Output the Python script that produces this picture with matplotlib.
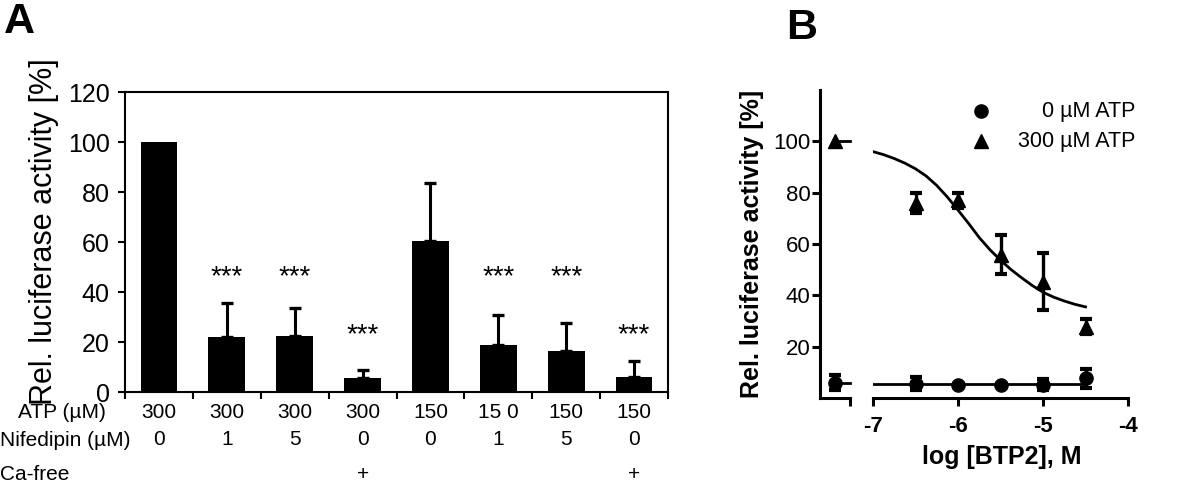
import matplotlib
matplotlib.use('Agg')
import matplotlib.pyplot as plt
import numpy as np
from matplotlib.transforms import blended_transform_factory

plt.rcParams['axes.unicode_minus'] = False

# Panel A: relative luciferase activity per condition
atp_labels = ['300', '300', '300', '300', '150', '15 0', '150', '150']
nifedipin_labels = ['0', '1', '5', '0', '0', '1', '5', '0']
ca_free_labels = ['', '', '', '+', '', '', '', '+']
activity = [100, 22, 22.5, 5.5, 60.5, 19, 16.5, 6]
activity_err = [0, 13.5, 11, 3.5, 23, 12, 11, 6.5]
stars = ['', '***', '***', '***', '', '***', '***', '***']
star_y = [0, 43, 43, 20, 0, 43, 43, 20]

# Panel B: dose response to BTP2
log_btp2 = [-6.5, -6.0, -5.5, -5.0, -4.5]
atp0_mean = [5.6, 5.0, 5.0, 5.2, 7.7]
atp0_err = [2.6, 0, 0, 2.2, 3.7]
atp300_mean = [76, 77, 55.8, 45.3, 27.8]
atp300_err = [4, 3, 7.6, 11, 3]
ctrl_atp0 = 6.0
ctrl_atp0_err = 2.9
ctrl_atp300 = 100

# fitted curves
fit_x = [-7.0, -6.875, -6.75, -6.625, -6.5, -6.375, -6.25, -6.125, -6.0, -5.875, -5.75,
         -5.625, -5.5, -5.375, -5.25, -5.125, -5.0, -4.875, -4.75, -4.625, -4.5]
fit_atp300 = [96.0, 94.8, 93.3, 91.5, 89.3, 86.5, 82.8, 78.3, 73.2, 68.0, 62.5,
              57.8, 53.7, 50.0, 46.8, 43.8, 41.2, 39.3, 37.8, 36.5, 35.5]
fit_atp0_x = [-7.0, -4.5]
fit_atp0 = [5.3, 5.3]

narrow = ['Liberation Sans Narrow', 'Liberation Sans', 'DejaVu Sans']
arial = ['Liberation Sans', 'DejaVu Sans']

W, H = 1200, 494
fig = plt.figure(figsize=(12, 4.94), dpi=100, facecolor='white')


def fx(px):
    return px / W


def fy(py):
    return 1 - py / H


# ---------------- Panel A ----------------
ax_a = fig.add_axes([fx(125), fy(392), fx(668 - 125), (392 - 92) / H])
n = len(activity)
x = np.arange(n)
ax_a.bar(x, activity, width=0.54, color='black', zorder=2)
has_err = np.array(activity_err) > 0
ax_a.errorbar(x[has_err], np.array(activity)[has_err],
              yerr=[np.zeros(has_err.sum()), np.array(activity_err)[has_err]],
              fmt='none', ecolor='black', elinewidth=2.2, capsize=4, capthick=2.4, zorder=1)
for xi, s, sy in zip(x, stars, star_y):
    if s:
        ax_a.text(xi, sy, s, ha='center', va='baseline', fontsize=20, family=arial)

ax_a.set_xlim(-0.5, n - 0.5)
ax_a.set_ylim(0, 120)
ax_a.set_yticks(range(0, 121, 20))
ax_a.set_xticks(np.arange(n + 1) - 0.5)
ax_a.set_xticklabels([])
ax_a.tick_params(axis='y', direction='out', length=5, width=1.5, pad=6, labelsize=18)
ax_a.tick_params(axis='x', direction='out', length=5, width=1.5)
for lab in ax_a.get_yticklabels():
    lab.set_family(narrow)
for sp in ax_a.spines.values():
    sp.set_linewidth(1.5)

fig.text(fx(44), fy(232), 'Rel. luciferase activity [%]', rotation=90, ha='center', va='center',
         fontsize=22, family=narrow)

trans = blended_transform_factory(ax_a.transData, fig.transFigure)
rows = [(atp_labels, 412), (nifedipin_labels, 439), (ca_free_labels, 474)]
for labels, py in rows:
    for xi, lab in zip(x, labels):
        ax_a.text(xi, fy(py), lab, transform=trans, ha='center', va='center',
                  fontsize=15, family=narrow, clip_on=False)
fig.text(fx(106), fy(413), 'ATP (µM)', ha='right', va='center', fontsize=15, family=narrow)
fig.text(fx(0), fy(440), 'Nifedipin (µM)', ha='left', va='center', fontsize=15, family=narrow)
fig.text(fx(0), fy(474), 'Ca-free', ha='left', va='center', fontsize=15, family=narrow)

fig.text(fx(4), fy(2), 'A', ha='left', va='top', fontsize=31, fontweight='bold', family=arial)

# ---------------- Panel B ----------------
b_bottom, b_top = 398, 90
ax_c = fig.add_axes([fx(820), fy(b_bottom), fx(30), (b_bottom - b_top) / H])
ax_b = fig.add_axes([fx(873), fy(b_bottom), fx(1128 - 873), (b_bottom - b_top) / H])

for ax in (ax_c, ax_b):
    ax.set_ylim(0, 120)
    ax.spines['top'].set_visible(False)
    ax.spines['right'].set_visible(False)
    for sp in ax.spines.values():
        sp.set_linewidth(2.2)
    ax.patch.set_alpha(0)

ebkw = dict(color='black', elinewidth=2.4, capsize=4.5, capthick=3, markersize=9.5,
            clip_on=False, zorder=3)

# control (no BTP2) segment
ax_c.set_xlim(0, 1)
ax_c.plot([0.5, 1], [ctrl_atp300, ctrl_atp300], color='black', lw=2, clip_on=False)
ax_c.plot([0.5, 1], [ctrl_atp0, ctrl_atp0], color='black', lw=2, clip_on=False)
ax_c.errorbar([0.5], [ctrl_atp0], yerr=[ctrl_atp0_err], fmt='o', **ebkw)
ax_c.plot([0.5], [ctrl_atp300], marker='^', color='black', markersize=9.5, clip_on=False)
ax_c.set_xticks([1])
ax_c.set_xticklabels([])
ax_c.set_yticks(range(20, 101, 20))
ax_c.tick_params(axis='y', direction='out', length=6, width=2.2, pad=1, labelsize=16)
ax_c.tick_params(axis='x', direction='out', length=6, width=2.2)
for lab in ax_c.get_yticklabels():
    lab.set_family(arial)

# BTP2 segment
ax_b.spines['left'].set_visible(False)
ax_b.set_xlim(-7, -4)
ax_b.plot(fit_x, fit_atp300, color='black', lw=2, zorder=2)
ax_b.plot(fit_atp0_x, fit_atp0, color='black', lw=2, zorder=2)
ax_b.errorbar(log_btp2, atp0_mean, yerr=atp0_err, fmt='o', **ebkw)
ax_b.errorbar(log_btp2, atp300_mean, yerr=atp300_err, fmt='^', **ebkw)
ax_b.set_yticks([])
ax_b.set_xticks([-7, -6, -5, -4])
ax_b.tick_params(axis='x', direction='out', length=6, width=2.2, pad=7, labelsize=16)
for lab in ax_b.get_xticklabels():
    lab.set_family(arial)
    lab.set_fontweight('bold')

fig.text(fx(1002), fy(457), 'log [BTP2], M', ha='center', va='center', fontsize=18,
         fontweight='bold', family=arial)
fig.text(fx(752), fy(244), 'Rel. luciferase activity [%]', rotation=90, ha='center', va='center',
         fontsize=18, fontweight='bold', family=arial)

# legend
for marker, py, label in [('o', 111, '0 µM ATP'), ('^', 141, '300 µM ATP')]:
    ax_b.plot([fx(981)], [fy(py)], marker=marker, color='black', markersize=9.5,
              transform=fig.transFigure, clip_on=False)
    fig.text(fx(1135), fy(py), label, ha='right', va='center', fontsize=15.5, family=arial)

fig.text(fx(786), fy(8), 'B', ha='left', va='top', fontsize=31, fontweight='bold', family=arial)

fig.savefig('out.png', dpi=100, facecolor='white')
